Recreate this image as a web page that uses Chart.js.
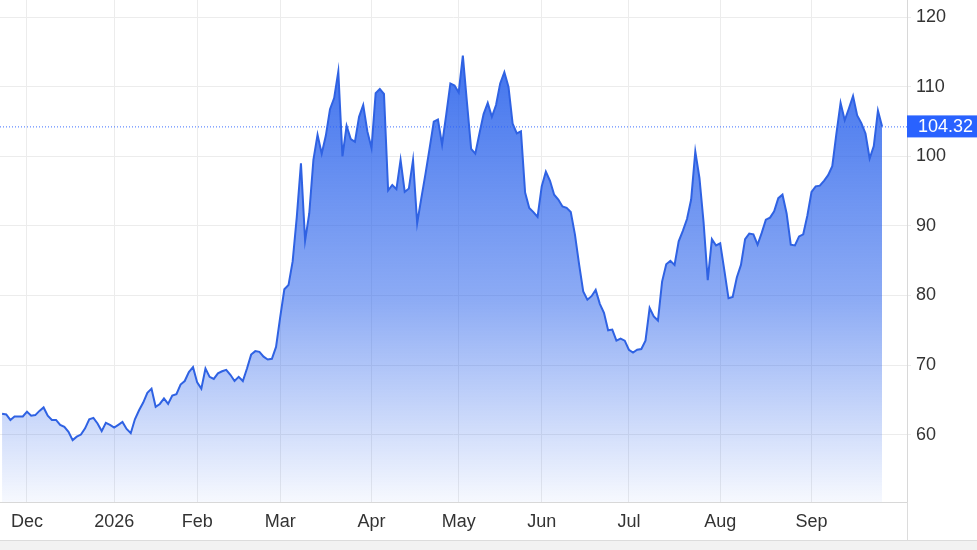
<!DOCTYPE html>
<html>
<head>
<meta charset="utf-8">
<script src="https://cdn.jsdelivr.net/npm/chart.js@4.4.1/dist/chart.umd.min.js"></script>
<style>
    html, body { margin: 0; padding: 0; background: #f2f2f2; }
    #wrap { width: 977px; height: 540px; background: #fff; border-bottom: 1px solid #dcdcdc; }
</style>
</head>
<body>
<div id="wrap"><canvas id="linechart"></canvas></div>
<script>
// daily closes, Dec 2025 -> Sep 2026 (one value per trading day)
var prices = [
    63.0, 62.9, 62.1, 62.6, 62.6, 62.6, 63.3, 62.7, 62.8, 63.4,
    63.9, 62.7, 62.1, 62.1, 61.4, 61.1, 60.4, 59.2, 59.7, 60.0,
    60.9, 62.2, 62.4, 61.6, 60.5, 61.7, 61.4, 61.0, 61.4, 61.8,
    60.8, 60.2, 62.2, 63.5, 64.6, 66.0, 66.6, 64.0, 64.4, 65.2,
    64.4, 65.6, 65.8, 67.2, 67.7, 69.0, 69.7, 67.5, 66.6, 69.5,
    68.3, 68.0, 68.8, 69.1, 69.3, 68.6, 67.7, 68.3, 67.7, 69.5,
    71.5, 72.0, 71.9, 71.2, 70.8, 70.9, 72.6, 76.9, 80.9, 81.5,
    84.9, 91.3, 99.0, 87.9, 91.8, 99.5, 103.1, 100.4, 103.0, 106.8,
    108.4, 112.2, 100.0, 104.4, 102.5, 102.1, 105.7, 107.4, 103.6, 101.2,
    109.1, 109.7, 109.0, 95.1, 95.9, 95.3, 99.5, 94.9, 95.4, 99.5,
    90.4, 94.0, 97.5, 101.2, 105.0, 105.3, 101.7, 106.0, 110.5, 110.2,
    109.2, 114.5, 107.7, 101.1, 100.4, 103.3, 106.1, 107.7, 105.7, 107.4,
    110.5, 112.1, 110.0, 104.7, 103.3, 103.6, 94.8, 92.6, 92.0, 91.3,
    95.7, 97.8, 96.5, 94.5, 93.8, 92.8, 92.6, 92.0, 88.8, 84.5,
    80.6, 79.4, 79.9, 80.8, 78.8, 77.5, 75.0, 75.1, 73.5, 73.8,
    73.5, 72.2, 71.8, 72.2, 72.3, 73.5, 78.2, 77.0, 76.4, 82.0,
    84.5, 85.0, 84.4, 87.8, 89.3, 91.0, 93.8, 100.7, 96.9, 90.5,
    82.2, 88.1, 87.2, 87.5, 83.6, 79.6, 79.8, 82.6, 84.4, 88.1,
    88.9, 88.8, 87.3, 89.0, 90.9, 91.2, 92.1, 94.0, 94.5, 91.8,
    87.3, 87.2, 88.5, 88.8, 91.5, 94.9, 95.7, 95.8, 96.5, 97.3,
    98.6, 103.3, 107.7, 105.2, 106.9, 108.7, 105.9, 104.8, 103.3, 99.7,
    101.5, 106.6, 104.32
];
var monthLabels = ["Dec", "2026", "Feb", "Mar", "Apr", "May", "Jun", "Jul", "Aug", "Sep"];
var monthStarts = [6, 27, 47, 67, 89, 110, 130, 151, 173, 195];
var yTicks = [60, 70, 80, 90, 100, 110, 120];
var lastPrice = 104.32;

var fontFamily = '"Liberation Sans", Arial, sans-serif';

// dotted last-price line + blue price tag on the right axis
const lastPricePlugin = {
    id: "lastPrice",
    afterDatasetsDraw(chart) {
        const ctx = chart.ctx;
        const area = chart.chartArea;
        const y = chart.scales.y.getPixelForValue(lastPrice);
        ctx.save();
        ctx.strokeStyle = "rgba(41, 98, 255, 0.9)";
        ctx.lineWidth = 1;
        ctx.setLineDash([1, 2]);
        ctx.beginPath();
        ctx.moveTo(area.left, y + 0.5);
        ctx.lineTo(area.right, y + 0.5);
        ctx.stroke();
        ctx.setLineDash([]);
        // axis border runs down through the date row
        ctx.strokeStyle = "#dcdcdc";
        ctx.beginPath();
        ctx.moveTo(area.right + 0.5, area.bottom);
        ctx.lineTo(area.right + 0.5, chart.height);
        ctx.stroke();
        ctx.fillStyle = "#2962ff";
        ctx.fillRect(area.right, y - 11, chart.width - area.right, 22);
        ctx.fillStyle = "#ffffff";
        ctx.font = "18px " + fontFamily;
        ctx.textBaseline = "middle";
        ctx.fillText(lastPrice.toFixed(2), area.right + 11, y + 1);
        ctx.restore();
    }
};

const ctx = document.getElementById("linechart").getContext("2d");

const config = {
    type: "line",
    data: {
        datasets: [
            {
                data: prices.map((p, i) => ({ x: i, y: p })),
                borderColor: "#2f62e3",
                borderWidth: 2,
                pointRadius: 0,
                tension: 0,
                fill: "start",
                backgroundColor: function(c) {
                    const area = c.chart.chartArea;
                    if (!area) return "rgba(41, 98, 255, 0.4)";
                    const g = c.chart.ctx.createLinearGradient(0, area.top, 0, area.bottom);
                    g.addColorStop(0, "rgba(37, 95, 235, 0.95)");
                    g.addColorStop(0.6, "rgba(37, 95, 235, 0.52)");
                    g.addColorStop(1, "rgba(37, 95, 235, 0.04)");
                    return g;
                }
            }
        ]
    },
    options: {
        responsive: true,
        maintainAspectRatio: false,
        animation: false,
        layout: { padding: 0 },
        scales: {
            x: {
                type: "linear",
                min: -0.5,
                max: 218,
                grid: { color: "#ececec", drawTicks: false },
                border: { color: "#d8d8d8" },
                ticks: {
                    color: "#333",
                    font: { size: 18, family: fontFamily },
                    padding: 9,
                    maxRotation: 0,
                    autoSkip: false,
                    callback: function(v) {
                        const k = monthStarts.indexOf(v);
                        return k < 0 ? "" : monthLabels[k];
                    }
                },
                afterBuildTicks: function(s) {
                    s.ticks = monthStarts.map(v => ({ value: v }));
                },
                afterFit: function(s) {
                    s.height = 38;
                    s.paddingLeft = 0;
                    s.paddingRight = 0;
                }
            },
            y: {
                position: "right",
                min: 50.3,
                max: 122.5,
                grid: { color: "#ececec", tickLength: 4 },
                border: { color: "#d8d8d8" },
                ticks: {
                    color: "#333",
                    font: { size: 18, family: fontFamily },
                    padding: 5
                },
                afterBuildTicks: function(s) {
                    s.ticks = yTicks.map(v => ({ value: v }));
                },
                afterFit: function(s) {
                    s.width = 70;
                    s.paddingTop = 0;
                    s.paddingBottom = 0;
                }
            }
        },
        plugins: {
            legend: { display: false },
            tooltip: { enabled: false }
        }
    },
    plugins: [lastPricePlugin]
};

var lineChart = new Chart(ctx, config);
</script>
</body>
</html>
